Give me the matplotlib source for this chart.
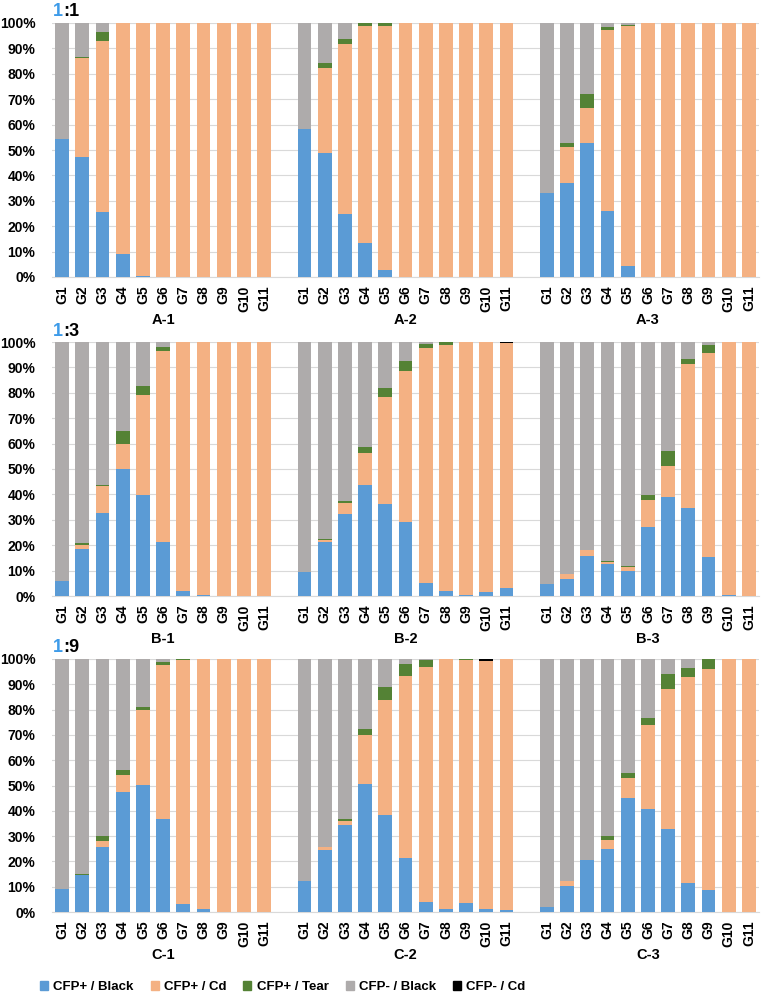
import numpy as np
import matplotlib.pyplot as plt
from matplotlib.patches import Patch

plt.rcParams['font.family'] = ['Liberation Sans', 'DejaVu Sans']
plt.rcParams['font.weight'] = 'bold'

# categories and panel names
categories = ['G1', 'G2', 'G3', 'G4', 'G5', 'G6', 'G7', 'G8', 'G9', 'G10', 'G11']
panels_A = ['A-1', 'A-2', 'A-3']
panels_B = ['B-1', 'B-2', 'B-3']
panels_C = ['C-1', 'C-2', 'C-3']
ratios = ['1', '3', '9']
series_names = ['CFP+ / Black', 'CFP+ / Cd', 'CFP+ / Tear', 'CFP- / Black', 'CFP- / Cd']

# row A (1:1) values in %, panels A-1, A-2, A-3 one after another
blue_A = [54.3, 47.1, 25.7, 9.2, 0.3, 0, 0, 0, 0, 0, 0,
          58.2, 48.7, 25.0, 13.2, 2.6, 0, 0, 0, 0, 0, 0,
          33.2, 37.1, 52.6, 26.1, 4.3, 0, 0, 0, 0, 0, 0]
orange_A = [0, 39.3, 67.2, 90.8, 99.7, 100, 100, 100, 100, 100, 100,
            0, 33.7, 66.7, 85.7, 96.3, 100, 100, 100, 100, 100, 100,
            0, 14.0, 14.1, 71.3, 94.4, 100, 100, 100, 100, 100, 100]
green_A = [0, 0.3, 3.7, 0, 0, 0, 0, 0, 0, 0, 0,
           0, 1.8, 2.0, 1.1, 1.1, 0, 0, 0, 0, 0, 0,
           0, 1.8, 5.5, 0.9, 0.4, 0, 0, 0, 0, 0, 0]
gray_A = [45.7, 13.3, 3.4, 0, 0, 0, 0, 0, 0, 0, 0,
          41.8, 15.8, 6.3, 0, 0, 0, 0, 0, 0, 0, 0,
          66.8, 47.1, 27.8, 1.7, 0.9, 0, 0, 0, 0, 0, 0]
black_A = [0] * 33

# row B (1:3)
blue_B = [5.8, 18.6, 32.8, 49.9, 39.9, 21.3, 2.0, 0.3, 0, 0, 0,
          9.6, 21.3, 32.2, 43.8, 36.4, 29.3, 5.1, 1.8, 0.3, 1.4, 3.3,
          4.6, 6.7, 15.7, 12.5, 10.0, 27.0, 39.1, 34.5, 15.4, 0.2, 0]
orange_B = [0, 1.6, 10.6, 10.1, 39.4, 75.3, 98.0, 99.7, 100, 100, 100,
            0, 0.7, 4.3, 12.4, 41.8, 59.2, 92.5, 96.9, 99.7, 98.6, 96.4,
            0, 1.8, 2.4, 1.0, 1.3, 10.7, 12.1, 57.0, 80.1, 99.8, 100]
green_B = [0, 0.7, 0.4, 5.1, 3.4, 1.6, 0, 0, 0, 0, 0,
           0, 0.4, 0.8, 2.6, 3.8, 3.9, 1.6, 1.3, 0, 0, 0,
           0, 0, 0, 0.4, 0.6, 2.1, 6.0, 1.7, 3.4, 0, 0]
gray_B = [94.2, 79.1, 56.2, 34.9, 17.3, 1.8, 0, 0, 0, 0, 0,
          90.4, 77.6, 62.7, 41.2, 18.0, 7.6, 0.8, 0, 0, 0, 0,
          95.4, 91.5, 81.9, 86.1, 88.1, 60.2, 42.8, 6.8, 1.1, 0, 0]
black_B = [0, 0, 0, 0, 0, 0, 0, 0, 0, 0, 0,
           0, 0, 0, 0, 0, 0, 0, 0, 0, 0, 0.3,
           0, 0, 0, 0, 0, 0, 0, 0, 0, 0, 0]

# row C (1:9)
blue_C = [9.1, 14.8, 25.8, 47.4, 50.1, 36.8, 3.3, 1.0, 0, 0, 0,
          12.3, 24.5, 34.5, 50.7, 38.2, 21.3, 4.0, 1.2, 3.7, 1.2, 0.8,
          2.1, 10.3, 20.7, 25.0, 45.1, 40.7, 32.7, 11.3, 8.6, 0, 0]
orange_C = [0, 0, 2.4, 6.9, 29.9, 60.8, 96.4, 99.0, 100, 100, 100,
            0, 1.2, 1.5, 19.3, 45.6, 72.1, 93.0, 98.8, 96.0, 97.9, 99.2,
            0, 1.8, 0, 3.6, 7.9, 33.1, 55.3, 81.6, 87.3, 100, 100]
green_C = [0, 0.4, 1.8, 1.7, 1.2, 1.2, 0.3, 0, 0, 0, 0,
           0, 0, 0.6, 2.5, 5.0, 4.5, 2.5, 0, 0.3, 0, 0,
           0, 0, 0, 1.4, 2.1, 2.7, 6.1, 3.4, 4.1, 0, 0]
gray_C = [90.9, 84.8, 70.0, 44.0, 18.8, 1.2, 0, 0, 0, 0, 0,
          87.7, 74.3, 63.4, 27.5, 11.2, 2.1, 0.5, 0, 0, 0, 0,
          97.9, 87.9, 79.3, 70.0, 44.9, 23.5, 5.9, 3.7, 0, 0, 0]
black_C = [0, 0, 0, 0, 0, 0, 0, 0, 0, 0, 0,
           0, 0, 0, 0, 0, 0, 0, 0, 0, 0.9, 0,
           0, 0, 0, 0, 0, 0, 0, 0, 0, 0, 0]

colors = ['#5B9BD5', '#F4B183', '#548235', '#AEABAB', '#000000']

rows = [
    (panels_A, [blue_A, orange_A, green_A, gray_A, black_A]),
    (panels_B, [blue_B, orange_B, green_B, gray_B, black_B]),
    (panels_C, [blue_C, orange_C, green_C, gray_C, black_C]),
]

W, H = 762, 998
fig = plt.figure(figsize=(W / 100, H / 100), dpi=100)

# pixel top / bottom of each plot area
row_px = [(23, 277), (342, 596), (659, 912)]
left_px, right_px = 52, 759

# bar positions: 11 bars, one empty slot, 11 bars, ...
x = np.concatenate([np.arange(11) + g * 12 for g in range(3)])

for r, (panel_names, series) in enumerate(rows):
    top, bot = row_px[r]
    ax = fig.add_axes([left_px / W, 1 - bot / H, (right_px - left_px) / W, (bot - top) / H])
    base = np.zeros(33)
    for vals, color in zip(series, colors):
        vals = np.array(vals, dtype=float)
        ax.bar(x, vals, 0.68, bottom=base, color=color, zorder=3)
        base += vals

    ax.set_xlim(-0.5, 34.5)
    ax.set_ylim(0, 100)
    ax.set_yticks(range(0, 101, 10))
    ax.set_yticklabels([f'{v}%' for v in range(0, 101, 10)], fontsize=10)
    ax.set_xticks(x)
    ax.set_xticklabels(categories * 3, rotation=90, fontsize=10)
    ax.tick_params(axis='both', length=0)
    ax.tick_params(axis='y', pad=12)
    ax.tick_params(axis='x', pad=6)
    ax.grid(axis='y', color='#D9D9D9', linewidth=0.8, zorder=0)
    for s in ['left', 'right', 'top']:
        ax.spines[s].set_visible(False)
    ax.spines['bottom'].set_color('#D9D9D9')

    # panel names under each group
    for g, name in enumerate(panel_names):
        ax.text(g * 12 + 5, -43 / (bot - top), name, transform=ax.get_xaxis_transform(),
                ha='center', va='center', fontsize=10.5)

    # ratio label, blue "1" then ":n"
    t = fig.text(53 / W, 1 - (top - 11) / H, '1', color='#3D9BE9', fontsize=13,
                 ha='left', va='center')
    ax.annotate(':' + ratios[r], xy=(1, 0), xycoords=t, va='bottom', ha='left',
                fontsize=13, color='black')

# legend at the bottom
handles = [Patch(color=c) for c in colors]
fig.legend(handles, series_names, loc='center left', bbox_to_anchor=(28 / W, 1 - 987 / H),
           ncol=5, frameon=False, fontsize=9.5, handlelength=0.6, handleheight=0.6,
           handletextpad=0.4, columnspacing=1.3)

fig.savefig('out.png', dpi=100)
